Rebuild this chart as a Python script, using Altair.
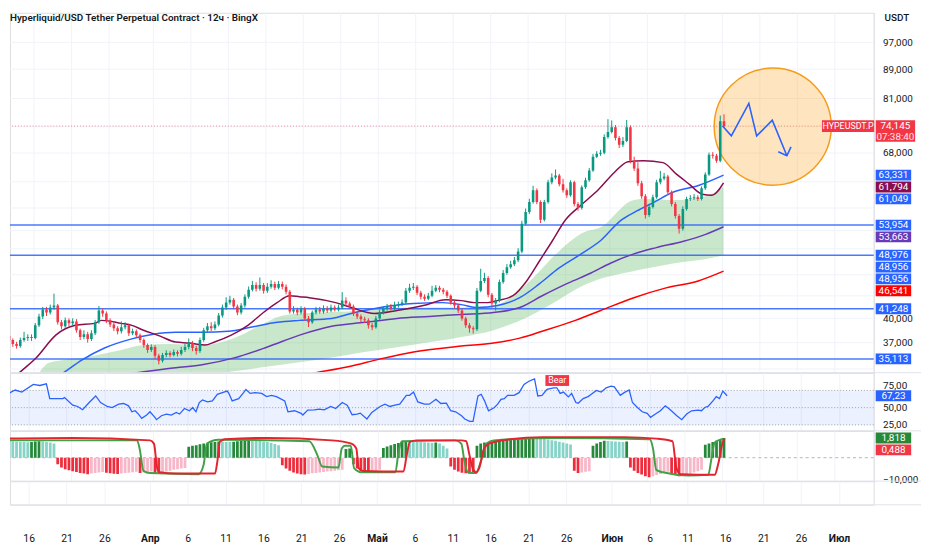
import math
import pandas as pd
import altair as alt

# ---------------- text ----------------
TITLE = "Hyperliquid/USD Tether Perpetual Contract · 12ч · BingX"
CURRENCY = "USDT"
SYMBOL = "HYPEUSDT.P"
COUNTDOWN = "07:38:40"

# ---------------- candles (12h), first candle opens 12 Mar 12:00 ----------------
CANDLE_START_DAY = -3.5   # days relative to 16 Mar 00:00
CANDLE_STEP = 0.5
first_open = 37800
closes = [37300, 36830, 36600, 37300, 37540, 37660, 37540, 39110, 40240, 41150,
          40760, 41410, 41670, 39490, 38990, 39740, 39360, 39610, 38500, 37660,
          38020, 37420, 38140, 39490, 41020, 40630, 39740, 39230, 38740, 38380,
          38860, 39110, 38140, 38380, 37900, 37300, 36710, 36140, 36480, 35460,
          34900, 35570, 35800, 35570, 35910, 35690, 36140, 36480, 36950, 36370,
          36030, 37300, 38500, 38990, 38740, 39230, 40370, 41410, 42070, 42470,
          41540, 40760, 41670, 42870, 43840, 44530, 43980, 44530, 43700, 44250,
          44670, 44110, 44670, 44250, 43560, 40890, 41150, 40760, 41280, 39990,
          39490, 40760, 41150, 40890, 41280, 41020, 41410, 41150, 41410, 42340,
          41940, 41540, 40630, 40240, 39870, 39740, 39110, 38860, 39990, 40760,
          41280, 41540, 41280, 41670, 41800, 42070, 43700, 44110, 44250, 43420,
          42870, 42610, 43010, 43700, 44110, 43840, 43560, 43010, 42070, 41670,
          41020, 39990, 39110, 38740, 38620, 43700, 45100, 45530, 43150, 41940,
          42340, 44960, 46250, 47140, 47590, 48190, 49590, 54180, 56280, 58100,
          60330, 58100, 54880, 58100, 61890, 62880, 63280, 61500, 60330, 59390,
          61890, 57730, 57000, 60920, 62290, 64290, 67190, 67840, 68060, 71590,
          72730, 73880, 71360, 69800, 70690, 73880, 66350, 64690, 61700, 59210,
          55750, 57180, 59020, 61890, 62680, 63080, 59960, 57730, 55570, 53330,
          56820, 58650, 58830, 59020, 58650, 60730, 63480, 67620, 67400, 66350,
          75310, 74145]
highs = [38100, 37500, 37100, 37600, 38300, 38000, 38000, 39400, 40600, 41500,
         41500, 41800, 43300, 41900, 39800, 40100, 40000, 40000, 39900, 38700,
         38500, 38300, 38500, 39800, 41600, 41300, 40900, 40000, 39500, 39000,
         39600, 39500, 39300, 38700, 38600, 38100, 37500, 36900, 36800, 36700,
         35700, 35800, 36100, 36000, 36200, 36100, 36500, 36900, 37500, 37200,
         36600, 37600, 38800, 39400, 39500, 39600, 40700, 41800, 42800, 43000,
         42700, 41800, 42000, 43200, 44300, 45100, 44900, 45600, 44800, 44800,
         45200, 45000, 45100, 45000, 44600, 43800, 41600, 41400, 41600, 41500,
         40300, 41000, 41500, 41500, 41700, 41600, 41800, 41700, 41800, 43500,
         42800, 42200, 41800, 40900, 40500, 40200, 40000, 39400, 40300, 41100,
         41600, 41900, 41900, 42200, 42200, 42500, 44100, 44700, 44800, 44500,
         43700, 43200, 43400, 44400, 44500, 44400, 44100, 43800, 43200, 42300,
         41900, 41300, 40200, 39400, 39000, 44100, 46900, 46300, 45800, 43400,
         42700, 45300, 46700, 47600, 48100, 48700, 50100, 54700, 56900, 58700,
         61200, 60700, 58400, 58500, 62400, 63700, 64500, 63600, 62600, 60700,
         62300, 62200, 58100, 61300, 62800, 64800, 67800, 68400, 68700, 72200,
         75800, 75500, 74400, 71800, 71600, 75600, 74300, 67200, 66000, 62200,
         59600, 57800, 59500, 62400, 64200, 63800, 63400, 60300, 58100, 55900,
         57300, 59100, 59400, 59600, 59400, 61100, 63900, 68100, 68200, 67800,
         76700, 77000]
lows = [36900, 36500, 36300, 36400, 37100, 37200, 37200, 37400, 38900, 39900,
        40300, 40500, 41100, 39200, 38600, 38800, 39000, 39100, 38200, 37300,
        37400, 37000, 37200, 37900, 39300, 40200, 39400, 38900, 38400, 38000,
        38100, 38600, 37800, 37900, 37600, 37000, 36400, 35800, 35900, 35100,
        34500, 34700, 35300, 35300, 35400, 35400, 35500, 35900, 36200, 36000,
        35600, 35800, 37100, 38200, 38400, 38500, 39000, 40100, 41100, 41800,
        41200, 40400, 40500, 41400, 42600, 43600, 43600, 43700, 43300, 43400,
        44000, 43800, 43900, 43900, 43200, 40600, 40600, 40400, 40500, 39700,
        38900, 39300, 40500, 40600, 40600, 40700, 40800, 40900, 40900, 41200,
        41600, 41200, 40300, 39900, 39500, 39400, 38700, 38500, 38700, 39800,
        40500, 41000, 41000, 41000, 41400, 41600, 41900, 43400, 43800, 43100,
        42500, 42300, 42400, 42800, 43500, 43500, 43200, 42700, 41800, 41300,
        40700, 39700, 38800, 38200, 38100, 38400, 43500, 44800, 42800, 41400,
        41000, 42100, 44700, 46000, 46900, 47300, 47900, 49300, 53900, 55900,
        57800, 57700, 54300, 54600, 57800, 61500, 62500, 61100, 59900, 58900,
        59100, 57300, 56500, 56700, 60600, 62000, 64000, 66900, 67400, 67700,
        71200, 72400, 70800, 69100, 69300, 70400, 65800, 64200, 61200, 58700,
        55100, 55400, 56900, 58700, 61500, 62300, 59500, 57300, 55100, 52500,
        53000, 56500, 58300, 58500, 58300, 58400, 60400, 63200, 66800, 65900,
        66000, 73700]

# ---------------- time axis (days since 16 Mar) ----------------
tick_days = [0, 5, 10, 16, 21, 26, 31, 36, 41, 46, 51, 56, 61, 66, 71, 77, 82, 87, 92, 97, 102, 107]
tick_labels = ["16", "21", "26", "Апр", "6", "11", "16", "21", "26", "Май", "6", "11",
               "16", "21", "26", "Июн", "6", "11", "16", "21", "26", "Июл"]
month_days = [16, 46, 77, 107]

# ---------------- price levels / moving averages (day, price) ----------------
price_grid = [97000, 89000, 81000, 74000, 68000, 62000, 57000, 53000, 50000, 46000, 43000, 40000, 37000, 34000]
price_labels = [97000, 89000, 81000, 68000, 40000, 37000]   # the others sit under readout boxes
levels = [53954, 48976, 41248, 35113]
last_price = 74145

ma_fast = [(-3.52, 32360), (-1.82, 33630), (0.39, 35240), (2.99, 37900), (5.6, 39110), (8.2, 39360),
           (9.11, 39740), (11.72, 39360), (13.15, 39110), (14.71, 38500), (16.93, 37780), (19.0, 37070),
           (20.83, 36950), (22.92, 36710), (24.2, 37070), (26.43, 37900), (28.65, 39110), (30.73, 40760),
           (32.55, 42070), (34.24, 43010), (35.55, 42870), (36.85, 42740), (40.36, 42070), (42.45, 41410),
           (45.57, 40630), (48.57, 41020), (52.08, 41670), (55.08, 42470), (57.16, 42340), (58.85, 42070),
           (60.68, 42070), (61.98, 42340), (64.06, 43010), (65.89, 45100), (67.58, 48040), (69.27, 51190),
           (71.09, 54880), (73.18, 57550), (75.52, 60530), (77.6, 63880), (79.43, 66140), (81.51, 66350),
           (84.11, 65930), (85.94, 63480), (87.63, 61500), (89.32, 59580), (90.63, 59390), (92.19, 61794)]
ma_blue = [(1.69, 32360), (4.04, 33600), (6.51, 35010), (9.5, 36370), (13.02, 37420), (16.02, 38020),
           (19.0, 38260), (22.53, 38260), (26.04, 38380), (29.04, 38860), (32.55, 39490), (35.55, 39740),
           (39.84, 39990), (42.45, 40630), (46.35, 41410), (50.78, 41940), (54.69, 42070), (57.16, 41800),
           (59.38, 41410), (61.98, 41670), (64.97, 42740), (67.58, 44670), (70.18, 46990), (73.18, 49200),
           (75.78, 51350), (78.39, 54700), (80.6, 56460), (82.94, 58100), (85.42, 59960), (88.93, 61310),
           (92.19, 63331)]
ma_purple = [(9.5, 33160), (13.8, 33600), (19.0, 34140), (22.53, 34460), (26.82, 35230), (31.25, 36480),
             (35.55, 37900), (39.84, 38990), (44.27, 39490), (48.57, 39990), (52.86, 40240), (57.16, 40500),
             (61.46, 40760), (64.97, 41410), (67.97, 43010), (71.48, 44820), (74.48, 46260), (77.08, 47740),
             (80.21, 49200), (83.2, 50190), (86.72, 51190), (89.71, 52330), (92.19, 53663)]
ma_red = [(32.9, 32900), (37.76, 33600), (42.06, 34240), (46.35, 35120), (50.78, 35910), (57.16, 36600),
          (61.46, 36950), (64.97, 37540), (67.97, 38380), (72.4, 39740), (75.78, 41020), (80.21, 42740),
          (84.51, 44110), (88.8, 45100), (92.19, 46541)]

band_days = [0.78, 2.08, 7.29, 11.72, 14.71, 18.23, 22.53, 26.82, 30.34, 33.33, 37.76, 42.06, 46.35,
             50.78, 57.16, 61.46, 65.89, 70.18, 73.18, 76.3, 78.0, 79.82, 81.5, 85.42, 89.84, 92.19]
band_upper = [33600, 34680, 35340, 36140, 36710, 36830, 36710, 37540, 39110, 40370, 40760, 40890, 41280,
              41410, 41410, 41670, 44670, 49590, 52500, 54010, 56280, 58280, 58650, 58460, 59210, 61049]
band_lower = [32880, 32900, 32950, 33000, 33050, 33090, 33400, 33750, 34150, 34500, 35000, 35600, 36150,
              36750, 37660, 38500, 40110, 42470, 44300, 45600, 46050, 46450, 46850, 47700, 48400, 48956]

# price-scale readouts (value, kind)
axis_readouts = [(63331, "blue"), (61794, "fast"), (61049, "blue"), (53954, "blue"), (53663, "purple"),
                 (48976, "blue"), (48956, "blue"), (48956, "blue"), (46541, "red"), (41248, "blue"),
                 (35113, "blue")]

# drawing: circle and forecast arrow (day, price)
circle_center = (98.76, 74010)
arrow_path = [(92.06, 74150), (93.23, 71840), (95.57, 79740), (96.61, 71840), (98.7, 75540), (100.65, 67400)]
arrow_head = [(99.5, 68260), (100.65, 67400), (101.2, 69350)]

# ---------------- RSI (day, value) ----------------
rsi_pts = [(-3.52, 78.8), (-2.65, 70.7), (-1.78, 75.5), (-0.91, 72.6), (0.61, 83.6), (1.48, 82.1), (2.34, 84.5),
           (2.78, 63.1), (4.51, 63.1), (4.73, 64.5), (5.82, 53.6), (6.47, 51.7), (7.12, 46.9), (7.99, 57.4),
           (8.85, 66.9), (9.5, 57.4), (10.37, 51.7), (11.02, 50.2), (11.89, 55.0), (12.54, 56.0), (13.19, 52.6),
           (13.63, 44.0), (14.06, 45.5), (14.5, 40.7), (14.93, 34.5), (15.58, 39.3), (16.02, 44.0), (16.67, 36.0),
           (16.88, 32.6), (17.53, 38.3), (18.19, 40.7), (18.84, 39.3), (19.49, 43.1), (19.92, 40.7), (20.57, 48.8),
           (21.22, 45.5), (21.66, 50.2), (22.09, 44.0), (22.53, 57.4), (22.96, 61.2), (23.61, 58.3), (24.26, 59.8),
           (24.91, 69.3), (25.78, 72.6), (26.22, 74.0), (26.43, 70.7), (26.87, 59.8), (27.73, 63.1), (28.38, 71.7),
           (28.69, 76.4), (29.25, 70.7), (29.9, 71.7), (30.77, 70.7), (31.42, 66.0), (32.07, 67.9), (32.72, 66.0),
           (33.81, 59.8), (34.24, 44.0), (35.11, 45.5), (35.98, 41.7), (36.2, 39.3), (36.85, 46.4), (37.72, 46.9),
           (38.37, 47.9), (39.02, 46.9), (39.89, 51.7), (40.54, 48.8), (41.41, 57.4), (42.06, 53.6), (42.71, 39.8),
           (43.36, 40.7), (43.79, 42.1), (44.66, 33.6), (45.31, 43.1), (46.4, 51.7), (47.05, 55.0), (47.7, 51.7),
           (48.35, 53.6), (49.0, 55.0), (49.87, 67.9), (50.3, 67.9), (50.82, 72.6), (51.39, 58.3), (52.26, 55.0),
           (52.91, 55.0), (53.78, 62.1), (54.43, 56.0), (55.16, 56.4), (55.73, 45.5), (56.38, 44.0), (57.16, 38.3),
           (57.59, 33.6), (58.25, 30.2), (58.68, 30.2), (59.33, 66.9), (59.76, 69.3), (60.2, 59.8), (60.72, 45.5),
           (61.5, 50.2), (61.93, 55.0), (62.37, 62.1), (62.8, 63.1), (63.24, 67.9), (64.1, 67.9), (64.76, 71.7),
           (65.41, 83.6), (66.06, 88.3), (66.8, 91.7), (67.23, 66.9), (67.79, 67.9), (68.44, 76.4), (69.31, 78.8),
           (69.75, 78.8), (70.18, 70.7), (70.61, 72.6), (71.27, 65.5), (71.7, 70.7), (72.26, 57.4), (72.57, 56.4),
           (73.22, 63.1), (73.87, 66.0), (74.3, 69.3), (74.96, 75.0), (75.61, 72.6), (76.26, 78.8), (76.91, 81.2),
           (77.34, 80.2), (78.12, 67.9), (78.64, 71.7), (79.3, 75.5), (79.73, 57.4), (80.38, 50.2), (81.03, 44.0),
           (81.68, 41.7), (82.12, 36.0), (82.77, 40.7), (83.42, 45.5), (84.07, 52.6), (84.72, 46.9), (85.59, 38.3),
           (86.24, 32.6), (86.89, 40.7), (87.54, 45.5), (88.41, 46.4), (88.85, 45.5), (89.28, 50.2), (89.71, 51.7),
           (90.36, 59.8), (90.8, 66.0), (91.23, 63.1), (91.67, 74.0), (92.23, 67.23)]
rsi_levels = [75, 50, 25]
bear_mark = (69.8, 89.3)
BEAR_TEXT = "Bear"

# ---------------- oscillator ----------------
hist = [7.6, 7.5, 7.4, 7.3, 7.2, 7.1, 7.3, 7.5, 7.6, 7.5, 7.3, 7.0, 6.5,
        -3.0, -4.5, -5.3, -5.8, -6.2, -6.6, -7.0, -7.3, -7.6,
        -7.3, -7.0, -6.8, -6.6, -6.9, -7.2, -7.4, -7.5, -7.3, -7.1, -6.9, -6.7, -6.5, -7.0,
        -6.8, -6.6, -6.4, -7.0, -7.3, -6.8, -6.4, -6.0, -5.6, -5.3, -5.0, -4.7,
        5.0, 5.5, 5.8, 6.2, 6.5, 6.8, 7.1, 7.3, 7.5, 7.4, 7.3, 7.2, 7.4, 7.6, 7.8, 7.9, 8.0,
        7.9, 7.8, 7.7, 7.5, 7.2, 6.8, 6.3, 5.8,
        -3.5, -5.0, -6.0, -6.8, -7.3, -7.6, -7.8, -7.5, -7.2, -7.0, -6.8, -6.6, -6.4, -6.2, -6.0, -5.8, -5.5,
        4.0, 4.2, -3.0, -5.0, -6.0, -6.5, -6.8, -6.5, -6.0, -5.6,
        4.5, 5.2, 5.8, 6.3, 6.8, 7.2, 7.6, 7.5, 7.4, 7.3, 7.2, 7.1, 7.0, 6.9, 7.0, 6.5, 5.5, 4.2,
        -4.0, -5.5, -6.4, -6.9, -7.2, -7.4, -7.5,
        5.5, 6.5, 7.0, 7.2, 7.4, 7.6, 7.8, 8.0, 8.2, 8.4, 8.6, 8.8, 9.0, 9.2, 9.4, 9.5,
        9.3, 9.0, 8.7, 8.4, 8.1, 7.8, 7.4, 7.0, 6.6, 6.1,
        -6.0, -7.1, -6.8, -6.5, -6.3,
        5.5, 6.5, 7.2, 7.8, 7.7, 7.6, 7.5, 7.4, 7.3, 7.5,
        -4.5, -6.0, -7.0, -7.8, -8.5, -9.0, -8.5, -8.0, -7.5, -7.0, -6.5, -7.2, -8.0, -8.6,
        -8.2, -7.8, -7.3, -6.8, -6.2, -5.6,
        6.0, 6.6, 7.2, 7.8, 8.6, 9.1]
osc_red = [(-3.52, 8.8), (5.16, 9.1), (15.58, 8.0), (16.1, 6.5), (16.54, -4.8), (16.88, -6.7), (19.05, -7.3),
           (24.26, -7.3), (24.57, -1.8), (24.91, 7.3), (25.56, 8.5), (31.21, 9.1), (39.89, 8.0), (42.49, 6.5),
           (43.14, 4.2), (43.45, -4.8), (44.01, -6.1), (49.43, -6.4), (49.87, 1.2), (50.3, 7.3), (51.17, 8.0),
           (57.16, 8.0), (57.81, 7.6), (58.25, 1.2), (58.68, -4.8), (59.11, -6.7), (59.55, -4.8), (60.2, 4.2),
           (60.85, 6.5), (63.67, 8.5), (68.01, 9.5), (78.86, 9.5), (83.2, 8.8), (85.37, 7.6), (85.89, -4.8),
           (86.46, -7.6), (91.01, -7.9), (91.45, -3.3), (92.1, 7.3), (92.32, 8.8)]
osc_green = [(-3.52, 8.0), (13.85, 8.0), (14.19, 4.2), (14.71, -6.1), (15.58, -7.1), (22.09, -7.6), (22.74, -3.3),
             (23.18, 6.5), (24.7, 8.3), (36.85, 7.6), (37.93, 1.2), (38.58, -4.1), (40.76, -4.5), (41.19, 4.2),
             (41.62, 5.5), (42.4, 5.5), (42.84, -4.8), (43.79, -6.7), (48.35, -6.7), (48.78, 2.7), (49.22, 7.6),
             (56.38, 8.0), (57.16, 6.5), (57.59, -1.8), (58.03, -6.7), (59.11, -7.1), (59.76, -1.8), (60.42, 6.1),
             (61.5, 8.0), (70.18, 9.1), (82.33, 8.5), (82.77, 4.2), (83.2, -5.6), (84.07, -6.7), (87.54, -8.2),
             (90.15, -7.9), (90.58, -0.3), (91.01, 7.0), (92.23, 8.8)]
osc_readouts = ["1,818", "0,488"]
osc_ticks = [-10]

# ---------------- layout / style ----------------
W = 876
H_MAIN, H_RSI, H_OSC, H_EMPTY = 365, 59, 51, 24
X_DOM = [-2.47, 111.59]
P_DOM = [33600, 106660]
RSI_DOM = [16.4, 100.7]
OSC_DOM = [-10.8, 12.4]
FONT = "Roboto"
TXT = "#131722"
GRID = "#f0f3fa"
SEP = "#e0e3eb"
UP, DOWN = "#089981", "#f23645"
BLUE, MAROON, PURPLE, RED = "#2962ff", "#880e4f", "#673ab7", "#ff0000"
KIND_COL = {"blue": BLUE, "fast": MAROON, "purple": PURPLE, "red": RED}
HG_DARK, HG_LIGHT, HR_DARK, HR_LIGHT = "#26893a", "#86d3c7", "#ee2c3c", "#f7b7c9"


def box(w, h):
    r = h / w
    return f"M-1,{-r:.4f}L1,{-r:.4f}L1,{r:.4f}L-1,{r:.4f}Z"


LN_SPAN = math.log(P_DOM[1] / P_DOM[0])


def p2px(p):
    return (math.log(P_DOM[1]) - math.log(p)) / LN_SPAN * H_MAIN


def px2p(y):
    return math.exp(math.log(P_DOM[1]) - y / H_MAIN * LN_SPAN)


def o2px(v):
    return (OSC_DOM[1] - v) / (OSC_DOM[1] - OSC_DOM[0]) * H_OSC


def px2o(y):
    return OSC_DOM[1] - y / H_OSC * (OSC_DOM[1] - OSC_DOM[0])


def stack(vals, to_px, from_px, gap=12):
    out, prev = [], -1e9
    for v in vals:
        y = max(to_px(v), prev + gap)
        out.append(from_px(y))
        prev = y
    return out


# ---------------- scales / axes ----------------
xs = alt.Scale(domain=X_DOM, nice=False, zero=False)
x_grid = alt.Axis(values=tick_days, labels=False, ticks=False, domain=False, grid=True,
                  gridColor=GRID, title=None, minExtent=0, maxExtent=0)


def X(f="d"):
    return alt.X(f"{f}:Q", scale=xs, axis=x_grid)


ps = alt.Scale(type="log", domain=P_DOM, nice=False)
p_axis = alt.Axis(orient="right", values=price_labels, format=",d", grid=False,
                  ticks=False, domain=True, domainColor=SEP, labelPadding=9, labelFontSize=10,
                  labelColor=TXT, title=None, labelOverlap=False, labelFont=FONT)


def YP(f):
    return alt.Y(f"{f}:Q", scale=ps, axis=p_axis)


rs = alt.Scale(domain=RSI_DOM, nice=False, zero=False)
r_axis = alt.Axis(orient="right", values=rsi_levels, grid=False, ticks=False, domain=True,
                  domainColor=SEP, labelPadding=9, labelFontSize=10, labelColor=TXT, title=None,
                  labelFont=FONT, labelExpr="replace(format(datum.value, '.2f'), '.', ',')",
                  labelBaseline={"condition": {"test": "datum.value == 75", "value": "bottom"},
                                 "value": "middle"})


def YR(f):
    return alt.Y(f"{f}:Q", scale=rs, axis=r_axis)


os_ = alt.Scale(domain=OSC_DOM, nice=False, zero=False)
o_axis = alt.Axis(orient="right", values=osc_ticks, grid=False, ticks=False, domain=True,
                  domainColor=SEP, labelPadding=9, labelFontSize=10, labelColor=TXT, title=None,
                  labelFont=FONT, labelExpr="replace(format(datum.value, '.3f'), '.', ',')")


def YO(f):
    return alt.Y(f"{f}:Q", scale=os_, axis=o_axis)


one = pd.DataFrame({"k": [0]})


def separator():
    return alt.Chart(one).mark_rule(color=SEP, strokeWidth=1).encode(
        x=alt.value(0), x2=alt.value(W + 48), y=alt.value(0))


# ---------------- main pane ----------------
n = min(len(closes), len(highs), len(lows))
opens = [first_open] + closes[:n - 1]
cdf = pd.DataFrame({
    "d": [CANDLE_START_DAY + CANDLE_STEP * i + CANDLE_STEP / 2 for i in range(n)],
    "o": opens, "c": closes[:n], "h": highs[:n], "l": lows[:n]})
cdf["col"] = [UP if c >= o else DOWN for o, c in zip(cdf["o"], cdf["c"])]

pgrid = alt.Chart(pd.DataFrame({"p": price_grid})).mark_rule(color=GRID, strokeWidth=1).encode(y=YP("p"))

band_df = pd.DataFrame({"d": band_days, "hi": band_upper, "lo": band_lower})
band = alt.Chart(band_df).mark_area(color="#4caf50", opacity=0.3, interpolate="monotone", clip=True).encode(
    x=X(), y=YP("hi"), y2="lo:Q")

lev = alt.Chart(pd.DataFrame({"p": levels})).mark_rule(color=BLUE, strokeWidth=1.5, opacity=0.85).encode(y=YP("p"))
lastline = alt.Chart(pd.DataFrame({"p": [last_price]})).mark_rule(
    color=DOWN, strokeDash=[1, 2], opacity=0.6).encode(y=YP("p"))

ma_rows = []
for name, pts, col in [("ma200", ma_red, RED), ("ma100", ma_purple, PURPLE), ("ma50", ma_blue, BLUE),
                       ("fast", ma_fast, MAROON)]:
    for d, p in pts:
        ma_rows.append({"s": name, "d": d, "p": p, "col": col})
ma_df = pd.DataFrame(ma_rows)
mas = alt.Chart(ma_df).mark_line(interpolate="monotone", strokeWidth=1.5, clip=True).encode(
    x=X(), y=YP("p"), detail="s:N", color=alt.Color("col:N", scale=None))

circ = alt.Chart(pd.DataFrame({"d": [circle_center[0]], "p": [circle_center[1]]})).mark_circle(
    size=math.pi * 67 ** 2, color="#ff9800", fillOpacity=0.25, stroke="#f59c1a", strokeWidth=1.5,
    strokeOpacity=1, opacity=1).encode(x=X(), y=YP("p"))

wicks = alt.Chart(cdf).mark_rule(strokeWidth=1, clip=True).encode(
    x=X(), y=YP("l"), y2="h:Q", color=alt.Color("col:N", scale=None))
bodies = alt.Chart(cdf).mark_bar(size=2.6, clip=True).encode(
    x=X(), y=YP("o"), y2="c:Q", color=alt.Color("col:N", scale=None))

arr_rows = [{"g": "path", "i": i, "d": d, "p": p} for i, (d, p) in enumerate(arrow_path)]
arr_rows += [{"g": "head", "i": i, "d": d, "p": p} for i, (d, p) in enumerate(arrow_head)]
arrow = alt.Chart(pd.DataFrame(arr_rows)).mark_line(color=BLUE, strokeWidth=1.6).encode(
    x=X(), y=YP("p"), detail="g:N", order="i:Q")

# right-hand readouts
disp = stack([v for v, _ in axis_readouts], p2px, px2p)
lab_df = pd.DataFrame({"v": [f"{v:,}" for v, _ in axis_readouts], "yp": disp,
                       "col": [KIND_COL[k] for _, k in axis_readouts]})
lab_box = alt.Chart(lab_df).mark_point(shape=box(36, 11), size=36 * 36, filled=True, opacity=1).encode(
    x=alt.value(W + 20), y=YP("yp"), color=alt.Color("col:N", scale=None))
lab_txt = alt.Chart(lab_df).mark_text(color="white", fontSize=10, font=FONT, align="center",
                                      baseline="middle").encode(x=alt.value(W + 20), y=YP("yp"), text="v:N")

ly = p2px(last_price)
last_df = pd.DataFrame({"yp": [px2p(ly + 5)]})
last_box = alt.Chart(last_df).mark_point(shape=box(40, 22), size=1600, filled=True, opacity=1, color=DOWN).encode(
    x=alt.value(W + 22), y=YP("yp"))
last_txt = alt.Chart(pd.DataFrame({"t": [f"{last_price:,}", COUNTDOWN], "yp": [last_price, px2p(ly + 11)],
                                   "col": ["#ffffff", "#ffe3e6"]})).mark_text(
    fontSize=10, font=FONT, align="center", baseline="middle").encode(
    x=alt.value(W + 22), y=YP("yp"), text="t:N", color=alt.Color("col:N", scale=None))
sym_box = alt.Chart(pd.DataFrame({"yp": [last_price]})).mark_point(
    shape=box(53, 12), size=53 * 53, filled=True, opacity=1, color=DOWN).encode(x=alt.value(W - 26), y=YP("yp"))
sym_txt = alt.Chart(pd.DataFrame({"t": [SYMBOL], "yp": [last_price]})).mark_text(
    color="white", fontSize=9, font=FONT, align="center", baseline="middle").encode(
    x=alt.value(W - 26), y=YP("yp"), text="t:N")

title = alt.Chart(pd.DataFrame({"t": [TITLE]})).mark_text(
    align="left", baseline="middle", fontSize=10, fontWeight=600, font=FONT, color=TXT).encode(
    x=alt.value(0), y=alt.value(5), text="t:N")
cur = alt.Chart(pd.DataFrame({"t": [CURRENCY]})).mark_text(
    align="left", baseline="middle", fontSize=10, fontWeight=500, font=FONT, color=TXT).encode(
    x=alt.value(W + 11), y=alt.value(5), text="t:N")

main = alt.layer(pgrid, band, lev, lastline, mas, circ, wicks, bodies, arrow,
                 sym_box, sym_txt, lab_box, lab_txt, last_box, last_txt, title, cur).properties(
    width=W, height=H_MAIN)

# ---------------- RSI pane ----------------
rsi_df = pd.DataFrame(rsi_pts, columns=["d", "v"])
rband = alt.Chart(pd.DataFrame({"hi": [rsi_levels[0]], "lo": [rsi_levels[-1]]})).mark_rect(
    color=BLUE, opacity=0.09).encode(x=alt.value(0), x2=alt.value(W), y=YR("hi"), y2="lo:Q")
rlev = alt.Chart(pd.DataFrame({"v": rsi_levels})).mark_rule(color="#787b86", strokeDash=[1, 2], opacity=0.7).encode(
    y=YR("v"))
rline = alt.Chart(rsi_df).mark_line(color=BLUE, strokeWidth=1.3, clip=True).encode(x=X(), y=YR("v"))
bear_df = pd.DataFrame({"d": [bear_mark[0]], "v": [bear_mark[1]], "t": [BEAR_TEXT]})
bear_box = alt.Chart(bear_df).mark_point(shape=box(24, 11), size=576, filled=True, opacity=1, color=DOWN).encode(
    x=X(), y=YR("v"))
bear_txt = alt.Chart(bear_df).mark_text(color="white", fontSize=9, font=FONT, align="center",
                                        baseline="middle").encode(x=X(), y=YR("v"), text="t:N")
rlast = rsi_pts[-1][1]
rl_df = pd.DataFrame({"v": [rlast], "t": [f"{rlast:.2f}".replace(".", ",")]})
rl_box = alt.Chart(rl_df).mark_point(shape=box(36, 11), size=1296, filled=True, opacity=1, color=BLUE).encode(
    x=alt.value(W + 20), y=YR("v"))
rl_txt = alt.Chart(rl_df).mark_text(color="white", fontSize=10, font=FONT, align="center",
                                    baseline="middle").encode(x=alt.value(W + 20), y=YR("v"), text="t:N")
rsi = alt.layer(rband, rlev, rline, bear_box, bear_txt, rl_box, rl_txt, separator()).properties(
    width=W, height=H_RSI)

# ---------------- oscillator pane ----------------
hn = min(len(hist), n)
hcol, prev = [], hist[0] + 0.1
for h in hist[:hn]:
    if h >= 0:
        hcol.append(HG_DARK if h > prev else HG_LIGHT)
    else:
        hcol.append(HR_DARK if h < prev else HR_LIGHT)
    prev = h
hdf = pd.DataFrame({"d": cdf["d"][:hn], "h": hist[:hn], "col": hcol})
zero = alt.Chart(pd.DataFrame({"v": [0]})).mark_rule(color="#b2b5be", strokeDash=[3, 3]).encode(y=YO("v"))
bars = alt.Chart(hdf).mark_bar(size=2.8, clip=True).encode(
    x=X(), y=YO("h"), y2=alt.datum(0), color=alt.Color("col:N", scale=None))
ol_rows = [{"s": "g", "d": d, "v": v} for d, v in osc_green] + [{"s": "r", "d": d, "v": v} for d, v in osc_red]
ol_df = pd.DataFrame(ol_rows)
ol_df["col"] = ol_df["s"].map({"g": "#43a047", "r": "#e3242f"})
olines = alt.Chart(ol_df).mark_line(strokeWidth=2, interpolate="monotone", clip=True).encode(
    x=X(), y=YO("v"), detail="s:N", color=alt.Color("col:N", scale=None))
o_disp = stack([hist[hn - 1], osc_red[-1][1]], o2px, px2o)
ob_df = pd.DataFrame({"v": o_disp, "t": osc_readouts, "col": [HG_DARK, DOWN]})
ob_box = alt.Chart(ob_df).mark_point(shape=box(36, 11), size=1296, filled=True, opacity=1).encode(
    x=alt.value(W + 20), y=YO("v"), color=alt.Color("col:N", scale=None))
ob_txt = alt.Chart(ob_df).mark_text(color="white", fontSize=10, font=FONT, align="center",
                                    baseline="middle").encode(x=alt.value(W + 20), y=YO("v"), text="t:N")
osc = alt.layer(zero, bars, olines, ob_box, ob_txt, separator()).properties(width=W, height=H_OSC)

# ---------------- empty pane + time axis ----------------
labels_js = "[" + ",".join(f"'{t}'" for t in tick_labels) + "]"
days_js = "[" + ",".join(str(v) for v in tick_days) + "]"
months_js = "[" + ",".join(str(v) for v in month_days) + "]"
x_bottom = alt.Axis(values=tick_days, labelExpr=f"{labels_js}[indexof({days_js}, datum.value)]",
                    grid=True, gridColor=GRID, ticks=False, domain=False, labelPadding=29,
                    labelFontSize=10.5, labelColor=TXT, labelFont=FONT, title=None, labelOverlap=False,
                    labelFlush=False,
                    labelFontWeight={"condition": {"test": f"indexof({months_js}, datum.value) >= 0",
                                                   "value": "bold"}, "value": "normal"})
ticks_pts = alt.Chart(pd.DataFrame({"d": tick_days})).mark_point(opacity=0).encode(
    x=alt.X("d:Q", scale=xs, axis=x_bottom), y=alt.value(0))
bottom_sep = alt.Chart(one).mark_rule(color=SEP).encode(x=alt.value(0), x2=alt.value(W + 48), y=alt.value(H_EMPTY))
empty = alt.layer(ticks_pts, separator(), bottom_sep).properties(width=W, height=H_EMPTY)

chart = alt.vconcat(main, rsi, osc, empty, spacing=0, bounds="flush").properties(
    padding={"left": 0, "top": 0, "right": 2, "bottom": 0}
).configure_view(stroke=None).configure(font=FONT)

chart.save("out.html", embed_options={"renderer": "svg", "actions": False})
